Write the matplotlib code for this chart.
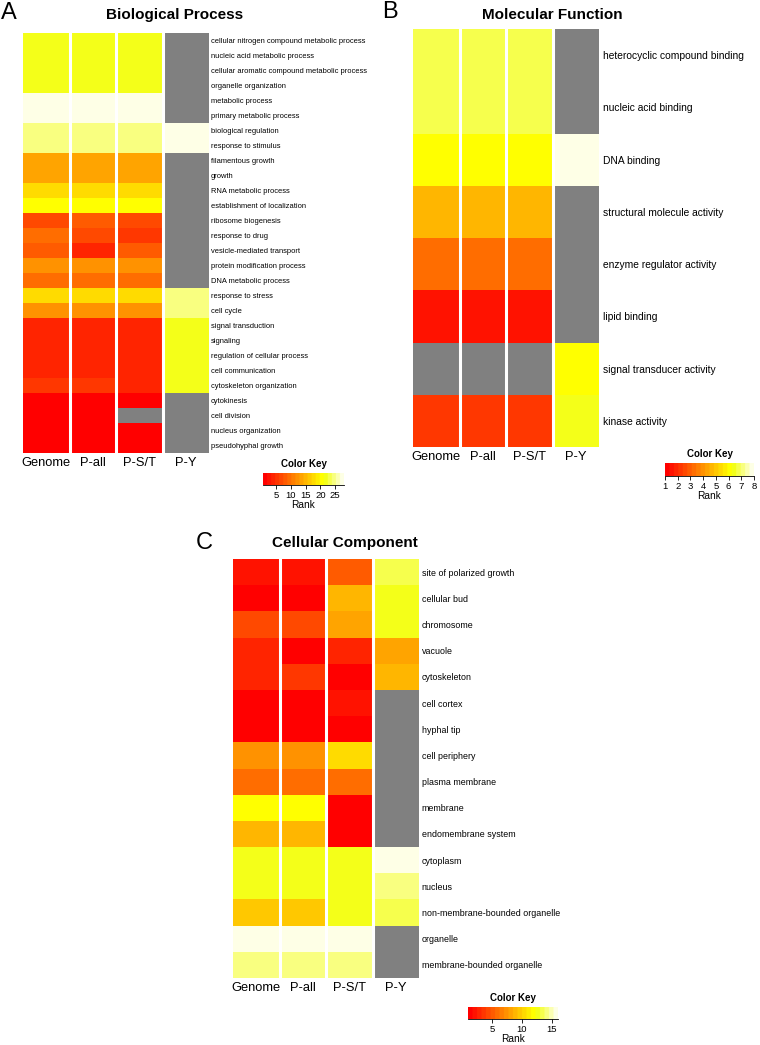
import numpy as np
import matplotlib.pyplot as plt
from matplotlib.colors import ListedColormap, hsv_to_rgb

plt.rcParams['font.family'] = ['Liberation Sans', 'DejaVu Sans']

W, H = 760, 1045
nan = np.nan

columns = ["Genome", "P-all", "P-S/T", "P-Y"]

# A - Biological Process (rank of each GO term)
bp_terms = [
    "cellular nitrogen compound metabolic process", "nucleic acid metabolic process",
    "cellular aromatic compound metabolic process", "organelle organization",
    "metabolic process", "primary metabolic process", "biological regulation",
    "response to stimulus", "filamentous growth", "growth", "RNA metabolic process",
    "establishment of localization", "ribosome biogenesis", "response to drug",
    "vesicle-mediated transport", "protein modification process", "DNA metabolic process",
    "response to stress", "cell cycle", "signal transduction", "signaling",
    "regulation of cellular process", "cell communication", "cytoskeleton organization",
    "cytokinesis", "cell division", "nucleus organization", "pseudohyphal growth",
]
bp_genome = [22, 22, 22, 22, 27.5, 27.5, 24.5, 24.5, 14, 14, 17, 20, 7, 9, 7.5, 12, 10,
             17, 12, 3.5, 3.5, 3.5, 3.5, 5, 1.5, 1.5, 1.5, 1.5]
bp_pall = [22, 22, 22, 22, 27.5, 27.5, 24.5, 24.5, 14, 14, 17, 20, 8.5, 7, 4.5, 12, 10,
           17, 12, 3.5, 3.5, 3.5, 3.5, 5, 1.5, 1.5, 1.5, 1.5]
bp_pst = [22, 22, 22, 22, 27.5, 27.5, 24.5, 24.5, 14, 14, 17, 20, 6, 5, 8.5, 12, 10,
          17, 12, 3.5, 3.5, 3.5, 3.5, 4.5, 1.5, nan, 1.5, 1.5]
bp_py = [nan, nan, nan, nan, nan, nan, 27, 27, nan, nan, nan, nan, nan, nan, nan, nan, nan,
         24, 24, 21.5, 21.5, 21.5, 21.5, 21.5, nan, nan, nan, nan]

# B - Molecular Function
mf_terms = ["heterocyclic compound binding", "nucleic acid binding", "DNA binding",
            "structural molecule activity", "enzyme regulator activity", "lipid binding",
            "signal transducer activity", "kinase activity"]
mf_genome = [6.8, 6.8, 6.1, 4.6, 3.3, 1.35, nan, 2.2]
mf_pall = [6.8, 6.8, 6.1, 4.6, 3.3, 1.35, nan, 2.2]
mf_pst = [6.8, 6.8, 6.1, 4.6, 3.3, 1.35, nan, 2.2]
mf_py = [nan, nan, 7.9, nan, nan, nan, 6.2, 6.5]

# C - Cellular Component
cc_terms = ["site of polarized growth", "cellular bud", "chromosome", "vacuole",
            "cytoskeleton", "cell cortex", "hyphal tip", "cell periphery", "plasma membrane",
            "membrane", "endomembrane system", "cytoplasm", "nucleus",
            "non-membrane-bounded organelle", "organelle", "membrane-bounded organelle"]
cc_genome = [2.1, 1.3, 4.5, 3.0, 2.8, 1.0, 1.0, 7.4, 5.7, 12.0, 8.5, 12.5, 12.5, 9.8, 16, 14]
cc_pall = [2.3, 1.2, 4.2, 1.6, 3.5, 1.0, 1.0, 7.4, 5.6, 12.0, 8.5, 12.5, 12.5, 9.8, 16, 14]
cc_pst = [5.0, 9.2, 7.8, 3.0, 1.2, 2.3, 1.4, 10.5, 6.0, 1.3, 1.6, 12.3, 12.3, 12.5, 15.8, 14]
cc_py = [13.0, 12.5, 12.5, 7.8, 9.0, nan, nan, nan, nan, nan, nan, 15.7, 14, 13, nan, nan]


def heat_colors(n, tail_hue=0.175):
    # R's heat.colors recipe; pale tail nudged a little toward green-yellow
    j = n // 4
    i = n - j
    cols = [hsv_to_rgb((h, 1, 1)) for h in np.linspace(0, 1 / 6, i)]
    cols += [hsv_to_rgb((tail_hue, s, 1)) for s in np.linspace(1 - 1 / (2 * j), 1 / (2 * j), j)]
    cm = ListedColormap(cols)
    cm.set_bad("#808080")
    return cm


cmap = heat_colors(20)
fig = plt.figure(figsize=(W / 100, H / 100), dpi=100)


def box(x0, y0, x1, y1):
    return [x0 / W, 1 - y1 / H, (x1 - x0) / W, (y1 - y0) / H]


def heatmap(rect, terms, cols, vmin, vmax, fs, pad):
    ax = fig.add_axes(box(*rect))
    arr = np.ma.masked_invalid(np.array(cols, dtype=float).T)
    ax.set_facecolor("#808080")
    ax.pcolormesh(arr, cmap=cmap, vmin=vmin, vmax=vmax)
    ax.set_xlim(0, 4)
    ax.set_ylim(len(terms), 0)
    for c in range(1, 4):
        ax.axvline(c, color="white", lw=2.2)
    ax.set_xticks(np.arange(4) + 0.5, columns, fontsize=9.3)
    ax.yaxis.tick_right()
    ax.set_yticks(np.arange(len(terms)) + 0.5, terms, fontsize=fs)
    ax.tick_params(axis="y", length=0, pad=pad)
    ax.tick_params(axis="x", length=0, pad=3)
    for s in ax.spines.values():
        s.set_visible(False)
    return ax


def color_key(rect, vmin, vmax, ticks):
    ax = fig.add_axes(box(*rect))
    grad = np.linspace(vmin, vmax, 400).reshape(1, -1)
    ax.imshow(grad, cmap=cmap, vmin=vmin, vmax=vmax, aspect="auto",
              extent=[vmin, vmax, 0, 1])
    ax.set_xlim(vmin, vmax)
    ax.set_yticks([])
    ax.set_xticks(ticks)
    ax.tick_params(axis="x", labelsize=6.8, length=3, width=0.6, pad=1)
    for k in ["top", "right", "left"]:
        ax.spines[k].set_visible(False)
    ax.spines["bottom"].set_linewidth(0.6)
    ax.set_title("Color Key", fontsize=7, fontweight="bold", pad=4)
    ax.set_xlabel("Rank", fontsize=7.3, labelpad=0)
    return ax


# A
heatmap((23, 33, 209, 453), bp_terms, [bp_genome, bp_pall, bp_pst, bp_py], 0.5, 28, 5.4, 1.5)
color_key((263, 473, 344, 485), 0.5, 28, [5, 10, 15, 20, 25])
fig.text(175 / W, 1 - 15 / H, "Biological Process", ha="center", va="center",
         fontsize=11, fontweight="bold")
fig.text(1 / W, 1 - 13 / H, "A", ha="left", va="center", fontsize=17)

# B
heatmap((413, 29, 599, 447), mf_terms, [mf_genome, mf_pall, mf_pst, mf_py], 1, 8, 7.4, 3)
color_key((665, 463, 754, 476), 1, 8, list(range(1, 9)))
fig.text(552 / W, 1 - 15 / H, "Molecular Function", ha="center", va="center",
         fontsize=11, fontweight="bold")
fig.text(382 / W, 1 - 12 / H, "B", ha="left", va="center", fontsize=17)

# C
heatmap((233, 559, 419, 978), cc_terms, [cc_genome, cc_pall, cc_pst, cc_py], 1, 16, 6.4, 2)
color_key((468, 1007, 558, 1019), 1, 16, [5, 10, 15])
fig.text(345 / W, 1 - 543 / H, "Cellular Component", ha="center", va="center",
         fontsize=11, fontweight="bold")
fig.text(196 / W, 1 - 543 / H, "C", ha="left", va="center", fontsize=17)

plt.savefig("out.png", dpi=100)
